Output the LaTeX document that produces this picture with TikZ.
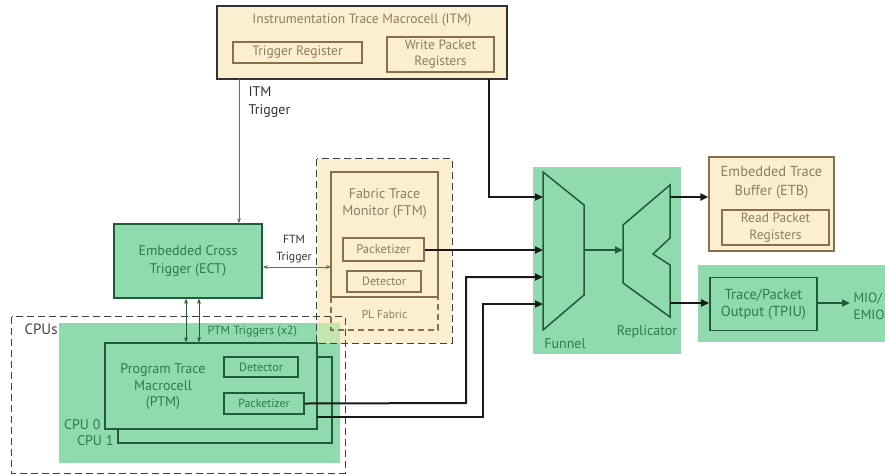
\documentclass[tikz,border=0pt]{standalone}
\usepackage{fontspec}
\setmainfont{PT Sans}
\usetikzlibrary{arrows.meta,calc}
\definecolor{gfill}{HTML}{8FDBAE}
\definecolor{gtext}{HTML}{2E7A4C}
\definecolor{gline}{HTML}{1F5C38}
\definecolor{bfill}{HTML}{FCEFCF}
\definecolor{btext}{HTML}{8C7D60}
\definecolor{bline}{HTML}{86714C}
\definecolor{mixfill}{HTML}{C2E6AC}
\definecolor{sigline}{HTML}{6A6A6A}
\definecolor{busline}{HTML}{1A1A1A}
\newcommand{\fsz}[2]{\fontsize{#1}{#2}\selectfont}
\begin{document}
\begin{tikzpicture}[x=1pt,y=-1pt,
  blk/.style={rectangle, inner sep=0pt, align=center},
  bbox/.style={blk, draw=bline, fill=bfill, line width=1.2pt, text=btext},
  gbox/.style={blk, draw=gline, fill=gfill, line width=1.6pt, text=gtext},
  sz/.style 2 args={minimum width=#1pt, minimum height=#2pt},
  bus/.style={draw=busline, line width=2pt, -{Triangle[length=8pt,width=7pt]}},
  gbus/.style={draw=gline, line width=2pt, -{Triangle[length=8pt,width=7pt]}},
  sig/.style={draw=sigline, line width=0.8pt, -{Stealth[length=5pt,width=4pt]}},
  sig2/.style={draw=sigline, line width=0.8pt, {Stealth[length=5pt,width=4pt]}-{Stealth[length=5pt,width=4pt]}},
  gsig2/.style={draw=gline, line width=0.9pt, {Stealth[length=5pt,width=4pt]}-{Stealth[length=5pt,width=4pt]}},
  fence/.style={draw=black!75, line width=1.3pt, dash pattern=on 7pt off 4pt}
]
\useasboundingbox (0,0) rectangle (885,475);

% ---- ITM ----
\node[bbox, draw=black!80, line width=1.4pt, sz={290}{73}] (itm) at (362,42.5) {};
\node[text=btext, font=\fsz{13.5}{16}] (itmtitle) at (362,20) {Instrumentation Trace Macrocell (ITM)};
\node[bbox, sz={129}{21}, font=\fsz{13.5}{16}] (trigreg) at (297.5,52.5) {Trigger Register};
\node[bbox, sz={107}{35}, font=\fsz{13.5}{16}] (wpr) at (440.5,54.5) {Write Packet\\Registers};
\coordinate (itmout) at (489,79);
\coordinate (itmtrig) at (239,79);

% ---- ECT ----
\node[gbox, sz={148}{74}, font=\fsz{14}{18}] (ect) at (188,261) {Embedded Cross\\Trigger (ECT)};

% ---- FTM region (fill first) ----
\node[blk, fill=bfill, sz={135}{184}] (ftmouter) at (384.5,251) {};

% ---- CPUs region ----
\node[blk, fill=gfill, sz={281}{140}] (cpuarea) at (199.5,393) {};
\fill[mixfill] (317,323) rectangle (340,343);
\draw[fence] (ftmouter.north west) rectangle (ftmouter.south east);
\node[blk, sz={333}{156}] (cpus) at (178.5,395) {};
\draw[fence] (cpus.north west) rectangle (cpus.south east);
\node[anchor=west, text=black!75, font=\fsz{15}{17}] (cpuslabel) at (21,329) {CPUs};

% ---- FTM inner ----
\draw[bline, line width=1.2pt] (331,297) -- (331,172) -- (438,172) -- (438,297) -- cycle;
\draw[bline, line width=1.2pt, dash pattern=on 6pt off 4pt] (331,297) -- (331,330) -- (438,330) -- (438,297);
\node[text=btext, align=center, font=\fsz{14}{17}] (ftmtitle) at (384.5,203.5) {Fabric Trace\\Monitor (FTM)};
\node[bbox, sz={81}{23}, font=\fsz{12.5}{15}] (ftmpkt) at (383.5,249.5) {Packetizer};
\node[bbox, sz={74}{21}, font=\fsz{12}{15}] (ftmdet) at (384,281.5) {Detector};
\node[text=btext, font=\fsz{11.5}{14}] (plfab) at (384.5,314) {PL Fabric};

% ---- CPU boxes ----
\node[gbox, sz={214}{86}] (cpu1) at (225,400) {};
\node[gbox, sz={212}{86}] (cpu0) at (211,386) {};
\node[text=gtext, align=center, font=\fsz{14}{16.5}] (ptm) at (163,387) {Program Trace\\Macrocell\\(PTM)};
\node[gbox, sz={74}{20}, font=\fsz{12}{15}] (ptmdet) at (261,367) {Detector};
\node[gbox, sz={80}{21}, font=\fsz{11.8}{15}] (ptmpkt) at (264,403.5) {Packetizer};
\node[anchor=east, text=gtext, font=\fsz{14}{16}] (cpu0lab) at (104,425) {CPU 0};
\node[anchor=east, text=gtext, font=\fsz{14}{16}] (cpu1lab) at (117,441) {CPU 1};
\coordinate (cpu1out) at (317,417);

% ---- Funnel / Replicator ----
\node[blk, fill=gfill, sz={148}{187}] (funbox) at (607,260.5) {};
\draw[gline, line width=1.5pt] (543,172) -- (584,205) -- (584,295) -- (543,330) -- cycle;
\draw[gline, line width=1.5pt] (670,185) -- (670,238) -- (653,254) -- (670,265) -- (670,317) -- (623,283) -- (623,225) -- cycle;
\node[text=gtext, font=\fsz{14}{16}] (funlab) at (565,344) {Funnel};
\node[text=gtext, font=\fsz{14}{16}] (replab) at (647,332) {Replicator};
\coordinate (fin1) at (543,197);
\coordinate (fin2) at (543,250);
\coordinate (fin3) at (543,277);
\coordinate (fin4) at (543,304);
\coordinate (fout) at (584,250);
\coordinate (rin) at (623,250);
\coordinate (rout1) at (670,197);
\coordinate (rout2) at (670,303);

% ---- ETB ----
\node[bbox, sz={125}{94}] (etb) at (771.5,204) {};
\node[text=btext, align=center, font=\fsz{14.5}{19}] (etbtitle) at (771.5,183) {Embedded Trace\\Buffer (ETB)};
\node[bbox, sz={107}{35}, font=\fsz{13.5}{17}] (rpr) at (775.5,227.5) {Read Packet\\Registers};

% ---- TPIU ----
\node[blk, fill=gfill, sz={187}{77}] (tpiureg) at (791.5,303.5) {};
\node[gbox, sz={107}{53}, font=\fsz{14.5}{17}] (tpiu) at (763.5,304) {Trace/Packet\\Output (TPIU)};
\node[anchor=west, text=gtext, align=left, font=\fsz{13.5}{17}] (mio) at (850,306.5) {MIO/\\EMIO};

% ---- Connectors ----
\draw[sig] (itmtrig) -- (ect.north -| itmtrig);
\node[anchor=north west, align=left, text=black!80, font=\fsz{14}{18}] (itmtriglab) at (245,83) {ITM\\Trigger};
\draw[sig2] (ect.east |- 0,267) -- (331,267);
\node[align=center, text=black!80, font=\fsz{11.8}{17}] (ftmtriglab) at (294,249) {FTM\\Trigger};
\draw[gsig2] (ect.south -| 186,0) -- (cpu0.north -| 186,0);
\draw[gsig2] (ect.south -| 199,0) -- (cpu0.north -| 199,0);
\node[anchor=west, text=gtext, font=\fsz{12}{15}] (ptmtriglab) at (204,332) {PTM Triggers (x2)};

\draw[bus] (itmout) -- (489,197) -- (fin1);
\draw[bus] (ftmpkt.east |- fin2) -- (fin2);
\draw[bus] (ptmpkt.east) -- (466,403) -- (466,277) -- (fin3);
\draw[bus] (cpu1out) -- (483,417) -- (483,304) -- (fin4);
\draw[gbus] (fout) -- (rin);
\draw[bus] (rout1) -- (etb.west |- rout1);
\draw[bus] (rout2) -- (tpiu.west |- rout2);
\draw[gbus] (tpiu.east |- rout2) -- (mio.west |- rout2);
\end{tikzpicture}
\end{document}
